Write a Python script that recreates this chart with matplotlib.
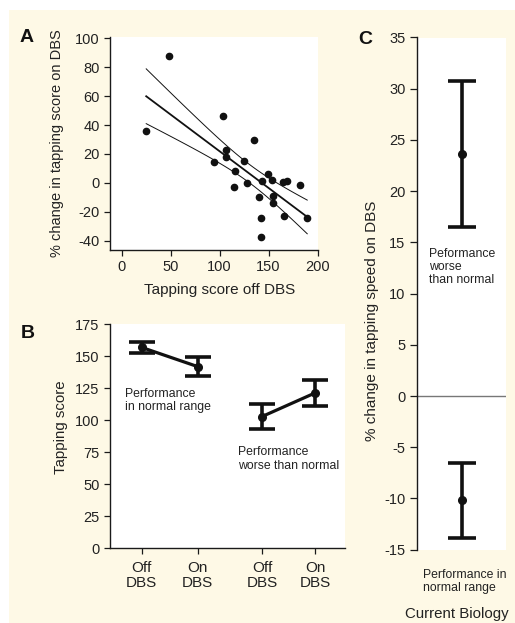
import numpy as np
import matplotlib
matplotlib.use("Agg")
import matplotlib.pyplot as plt

plt.rcParams['font.family'] = ['Liberation Sans', 'DejaVu Sans']
plt.rcParams['axes.unicode_minus'] = False

# ---------------- data ----------------
# Panel A: scatter
tap_off = [25, 48, 103, 135, 94, 106, 106, 125, 116, 115, 128, 149, 143.5, 154,
           165, 169, 182, 140, 154.5, 155, 142, 166, 189.5, 142]
pct_change = [36, 88, 46, 30, 14.5, 22.5, 17.6, 15, 8.5, -3, 0, 6.5, 1.5, 2,
              0.5, 1, -1.5, -10, -9, -14, -24, -23, -24.5, -37.5]
t_crit = 1.717  # t(0.95, n-2): 90% band

# Panel B
b_labels = ["Off\nDBS", "On\nDBS", "Off\nDBS", "On\nDBS"]
b_normal_mean = [157, 142]
b_normal_err = [4.3, 7.2]
b_worse_mean = [103, 121.5]
b_worse_err = [9.8, 10.4]

# Panel C
c_means = [23.6, -10.1]
c_upper = [30.8, -6.5]
c_lower = [16.5, -13.9]

# ---------------- figure ----------------
W, H = 515, 623
fig = plt.figure(figsize=(W / 100, H / 100), dpi=100)
fig.patch.set_facecolor('white')
cream = '#fef9e6'
fig.add_artist(plt.Rectangle((9 / W, 0), 1, 1 - 10 / H, transform=fig.transFigure,
                             facecolor=cream, edgecolor='none', zorder=-10))

def px_axes(l, t, r, b):
    return fig.add_axes([l / W, 1 - b / H, (r - l) / W, (b - t) / H])

dark = '#1a1a1a'
tickc = '#222222'

def style(ax):
    for s in ['top', 'right']:
        ax.spines[s].set_visible(False)
    for s in ['left', 'bottom']:
        ax.spines[s].set_color(dark)
        ax.spines[s].set_linewidth(1.0)
    ax.tick_params(direction='out', length=4, width=0.9, color=dark, labelcolor=tickc)
    ax.set_facecolor('white')

# ---------- Panel A ----------
axA = px_axes(110, 37, 318, 250)
style(axA)
x = np.array(tap_off)
y = np.array(pct_change)
axA.plot(x, y, 'o', color='#111111', markersize=4.5, zorder=3)
coef = np.polyfit(x, y, 1)
xs = np.linspace(x.min(), x.max(), 100)
ys = np.polyval(coef, xs)
n = len(x)
resid = y - np.polyval(coef, x)
s = np.sqrt(np.sum(resid ** 2) / (n - 2))
sxx = np.sum((x - x.mean()) ** 2)
half = t_crit * s * np.sqrt(1 / n + (xs - x.mean()) ** 2 / sxx)
axA.plot(xs, ys, color='#111111', lw=1.3)
axA.plot(xs, ys + half, color='#111111', lw=0.7)
axA.plot(xs, ys - half, color='#111111', lw=0.7)
axA.set_xlim(-12, 200.5)
axA.set_ylim(-46.4, 100.9)
axA.set_xticks([0, 50, 100, 150, 200])
axA.set_yticks([-40, -20, 0, 20, 40, 60, 80, 100])
axA.tick_params(axis='both', labelsize=10.5)
axA.set_xlabel("Tapping score off DBS", fontsize=11, color=tickc)
axA.xaxis.set_label_coords(0.529, -0.155)
axA.xaxis.label.set_va('top')
axA.set_ylabel("% change in tapping score on DBS", fontsize=10.5, color=tickc)
axA.yaxis.set_label_coords(-0.22, 0.5)

# ---------- Panel B ----------
axB = px_axes(110, 324, 345, 548.3)
style(axB)
bx = [1, 2, 3.15, 4.1]
ekw = dict(fmt='o', color='#111111', markersize=5.5, elinewidth=2.6,
           capsize=9.5, capthick=2.6, lw=2.3, zorder=3)
axB.errorbar(bx[:2], b_normal_mean, yerr=b_normal_err, linestyle='-', **ekw)
axB.errorbar(bx[2:], b_worse_mean, yerr=b_worse_err, linestyle='-', **ekw)
axB.set_xlim(0.434, 4.63)
axB.set_ylim(0, 175.3)
axB.set_yticks([0, 25, 50, 75, 100, 125, 150, 175])
axB.set_xticks(bx)
axB.set_xticklabels(b_labels, fontsize=11, linespacing=1.15)
axB.tick_params(axis='y', labelsize=10.5)
axB.tick_params(axis='x', pad=5)
axB.set_ylabel("Tapping score", fontsize=10.8, color=tickc)
axB.yaxis.set_label_coords(-0.18, 0.54)
axB.text(0.70, 125.6, "Performance\nin normal range", fontsize=8.8, va='top',
         ha='left', color=tickc, linespacing=1.15)
axB.text(2.725, 79.6, "Performance\nworse than normal", fontsize=8.8, va='top',
         ha='left', color=tickc, linespacing=1.15)

# ---------- Panel C ----------
axC = px_axes(417.3, 37.5, 506, 549.7)
style(axC)
axC.spines['bottom'].set_visible(False)
axC.tick_params(axis='x', bottom=False, labelbottom=False)
axC.tick_params(axis='y', length=5)
axC.axhline(0, color='#777777', lw=1.0, zorder=1)
cm = np.array(c_means)
yerr = np.vstack([cm - np.array(c_lower), np.array(c_upper) - cm])
axC.errorbar([0, 0], cm, yerr=yerr, fmt='o', color='#111111', markersize=5.5,
             elinewidth=2.6, capsize=10, capthick=2.6, zorder=3)
axC.set_xlim(-1, 1)
axC.set_ylim(-15, 35)
axC.set_yticks([-15, -10, -5, 0, 5, 10, 15, 20, 25, 30, 35])
axC.tick_params(axis='y', labelsize=10.5)
axC.set_ylabel("% change in tapping speed on DBS", fontsize=11, color=tickc)
axC.yaxis.set_label_coords(-0.43, 0.447)
axC.text(0.135, 14.5, "Peformance\nworse\nthan normal", transform=axC.get_yaxis_transform(),
         fontsize=8.8, va='top', ha='left', color=tickc, linespacing=1.15)
axC.text(0.068, -0.037, "Performance in\nnormal range", transform=axC.transAxes,
         fontsize=8.8, va='top', ha='left', color=tickc, linespacing=1.2)

# Panel letters and credit
for lx, ly, lab in [(27, 38, "A"), (27.5, 333, "B"), (365, 40, "C")]:
    fig.text(lx / W, 1 - ly / H, lab, fontsize=14, fontweight='bold', ha='center',
             va='center', color='#111111')
fig.text(405 / W, 1 - 614 / H, "Current Biology", fontsize=10.8, ha='left',
         va='center', color='#222222')

fig.savefig("out.png", dpi=100, facecolor=fig.get_facecolor())
